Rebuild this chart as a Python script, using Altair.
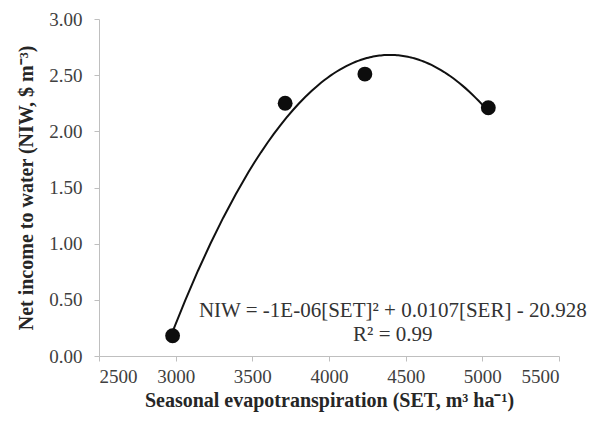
import altair as alt
import pandas as pd

set_vals = [2980, 3714, 4234, 5039]
niw_vals = [0.18, 2.25, 2.51, 2.21]

eq_text = ["NIW = -1E-06[SET]\u00b2 + 0.0107[SER] - 20.928", "R\u00b2 = 0.99"]
eq_x = [4416, 4416]
eq_y = [0.40, 0.19]

df = pd.DataFrame({"SET": set_vals, "NIW": niw_vals})
tdf = pd.DataFrame({"t": eq_text, "x": eq_x, "y": eq_y})

font = "Liberation Serif"
xscale = alt.Scale(domain=[2500, 5500], nice=False, zero=False)
yscale = alt.Scale(domain=[0, 3], nice=False)

xaxis = alt.Axis(values=[2500, 3000, 3500, 4000, 4500, 5000, 5500], format="d", grid=False,
                 domainColor="#bfbfbf", tickColor="#bfbfbf", tickSize=5,
                 labelFont=font, labelFontSize=19, labelColor="#404040", labelPadding=6,
                 title="Seasonal evapotranspiration (SET, m\u00b3 ha\u207b\u00b9)",
                 titleFont=font, titleFontSize=20, titleFontWeight="bold", titleColor="#262626",
                 titlePadding=4)
yaxis = alt.Axis(values=[0, 0.5, 1, 1.5, 2, 2.5, 3], format=".2f", grid=False,
                 domainColor="#bfbfbf", tickColor="#bfbfbf", tickSize=5,
                 labelFont=font, labelFontSize=19, labelColor="#404040", labelPadding=12,
                 title="Net income to water (NIW, $ m\u207b\u00b3)",
                 titleFont=font, titleFontSize=20, titleFontWeight="bold", titleColor="#262626",
                 titlePadding=12)

base = alt.Chart(df)

curve = base.transform_regression("SET", "NIW", method="poly", order=2).mark_line(
    color="#111111", strokeWidth=2
).encode(x=alt.X("SET:Q", scale=xscale, axis=xaxis), y=alt.Y("NIW:Q", scale=yscale, axis=yaxis))

pts = base.mark_circle(size=220, color="#0d0d0d", opacity=1).encode(
    x=alt.X("SET:Q", scale=xscale), y=alt.Y("NIW:Q", scale=yscale))

txt = alt.Chart(tdf).mark_text(font=font, fontSize=21, color="#333333", align="center").encode(
    x=alt.X("x:Q", scale=xscale), y=alt.Y("y:Q", scale=yscale), text="t:N")

chart = alt.layer(curve, pts, txt).properties(
    width=460, height=337,
    autosize=alt.AutoSizeParams(type="none"),
    padding={"left": 91, "top": 11, "right": 43, "bottom": 62},
).configure_view(stroke=None)

chart.save("out.html", embed_options={"renderer": "svg", "actions": False})
